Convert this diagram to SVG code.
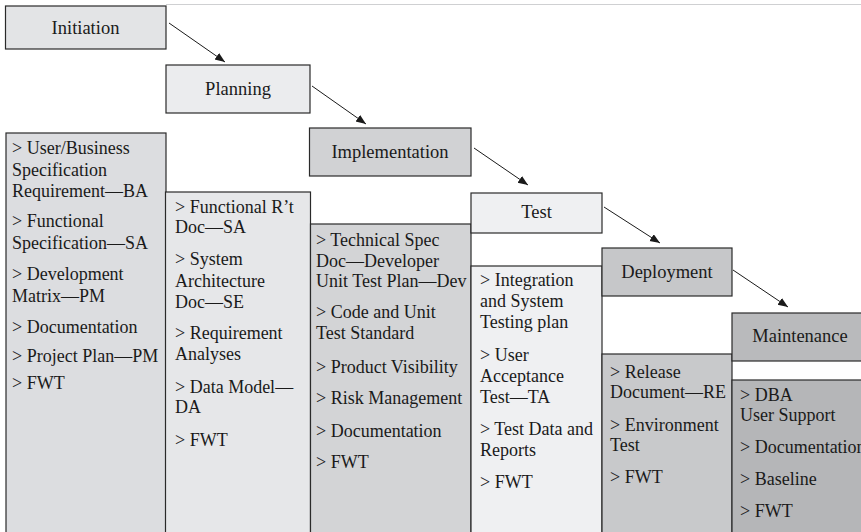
<svg xmlns="http://www.w3.org/2000/svg" width="861" height="532" viewBox="0 0 861 532">
<style>
  .box { stroke: #2a2a2a; stroke-width: 1.2; }
  .hd { font-family: 'Liberation Serif', 'Tinos', 'Times New Roman', 'DejaVu Serif', serif; font-size: 18.5px; fill: #1a1a1a; text-anchor: middle; }
  .tx { font-family: 'Liberation Serif', 'Tinos', 'Times New Roman', 'DejaVu Serif', serif; font-size: 18px; fill: #1a1a1a; }
  .conn { stroke: #1a1a1a; stroke-width: 1; fill: none; marker-end: url(#arr); }
</style>
<defs>
  <marker id="arr" markerUnits="userSpaceOnUse" markerWidth="12" markerHeight="10" refX="10" refY="4" orient="auto">
    <path d="M0,0 L10,4 L0,8 Z" fill="#1a1a1a"/>
  </marker>
</defs>
<rect x="0" y="0" width="861" height="532" fill="#ffffff"/>
<line x1="166" y1="4.5" x2="861" y2="4.5" stroke="#cfd0d2" stroke-width="1.2"/>

<g id="col1">
  <rect class="box" x="6" y="133" width="160" height="405" fill="#dcdde0"/>
  <text class="tx" font-family="Liberation Serif, serif">
    <tspan x="12" y="154">&gt; User/Business</tspan>
    <tspan x="12" y="176">Specification</tspan>
    <tspan x="12" y="197">Requirement—BA</tspan>
    <tspan x="12" y="227">&gt; Functional</tspan>
    <tspan x="12" y="249">Specification—SA</tspan>
    <tspan x="12" y="280">&gt; Development</tspan>
    <tspan x="12" y="302">Matrix—PM</tspan>
    <tspan x="12" y="333">&gt; Documentation</tspan>
    <tspan x="12" y="362">&gt; Project Plan—PM</tspan>
    <tspan x="12" y="389">&gt; FWT</tspan>
  </text>
</g>
<g id="col2">
  <rect class="box" x="165.5" y="192" width="145" height="346" fill="#e6e7e9"/>
  <text class="tx">
    <tspan x="175" y="213">&gt; Functional R’t</tspan>
    <tspan x="175" y="233">Doc—SA</tspan>
    <tspan x="175" y="265">&gt; System</tspan>
    <tspan x="175" y="287">Architecture</tspan>
    <tspan x="175" y="308">Doc—SE</tspan>
    <tspan x="175" y="339">&gt; Requirement</tspan>
    <tspan x="175" y="360">Analyses</tspan>
    <tspan x="175" y="393">&gt; Data Model—</tspan>
    <tspan x="175" y="413">DA</tspan>
    <tspan x="175" y="446">&gt; FWT</tspan>
  </text>
</g>
<g id="col3">
  <rect class="box" x="310.5" y="224" width="160.5" height="314" fill="#d3d4d6"/>
  <text class="tx">
    <tspan x="316" y="246">&gt; Technical Spec</tspan>
    <tspan x="316" y="267">Doc—Developer</tspan>
    <tspan x="316" y="287">Unit Test Plan—Dev</tspan>
    <tspan x="316" y="318">&gt; Code and Unit</tspan>
    <tspan x="316" y="339">Test Standard</tspan>
    <tspan x="316" y="373">&gt; Product Visibility</tspan>
    <tspan x="316" y="404">&gt; Risk Management</tspan>
    <tspan x="316" y="437">&gt; Documentation</tspan>
    <tspan x="316" y="468">&gt; FWT</tspan>
  </text>
</g>
<g id="col4">
  <rect class="box" x="471" y="266" width="131" height="272" fill="#eff0f2"/>
  <text class="tx">
    <tspan x="480" y="286">&gt; Integration</tspan>
    <tspan x="480" y="307">and System</tspan>
    <tspan x="480" y="328">Testing plan</tspan>
    <tspan x="480" y="361">&gt; User</tspan>
    <tspan x="480" y="382">Acceptance</tspan>
    <tspan x="480" y="403">Test—TA</tspan>
    <tspan x="480" y="435">&gt; Test Data and</tspan>
    <tspan x="480" y="456">Reports</tspan>
    <tspan x="480" y="488">&gt; FWT</tspan>
  </text>
</g>
<g id="col5">
  <rect class="box" x="602" y="354" width="130" height="184" fill="#c8c9cb"/>
  <text class="tx">
    <tspan x="610" y="378">&gt; Release</tspan>
    <tspan x="610" y="398">Document—RE</tspan>
    <tspan x="610" y="431">&gt; Environment</tspan>
    <tspan x="610" y="451">Test</tspan>
    <tspan x="610" y="483">&gt; FWT</tspan>
  </text>
</g>
<g id="col6">
  <rect class="box" x="732" y="380" width="140" height="158" fill="#b5b6b8"/>
  <text class="tx">
    <tspan x="740" y="401">&gt; DBA</tspan>
    <tspan x="740" y="421">User Support</tspan>
    <tspan x="740" y="453">&gt; Documentation</tspan>
    <tspan x="740" y="485">&gt; Baseline</tspan>
    <tspan x="740" y="517">&gt; FWT</tspan>
  </text>
</g>

<g id="initiation">
  <rect class="box" x="5.5" y="6" width="160.5" height="43" fill="#e3e4e6"/>
  <text class="hd" x="85.5" y="34">Initiation</text>
</g>
<g id="planning">
  <rect class="box" x="166" y="65" width="144" height="48" fill="#ebecee"/>
  <text class="hd" x="238" y="94.5">Planning</text>
</g>
<g id="implementation">
  <rect class="box" x="309.5" y="128" width="161.5" height="48" fill="#d1d2d4"/>
  <text class="hd" x="390" y="158">Implementation</text>
</g>
<g id="test">
  <rect class="box" x="471" y="193" width="131" height="40" fill="#eff0f2"/>
  <text class="hd" x="536.5" y="218">Test</text>
</g>
<g id="deployment">
  <rect class="box" x="602" y="248" width="130" height="48" fill="#c6c7c9"/>
  <text class="hd" x="667" y="278">Deployment</text>
</g>
<g id="maintenance">
  <rect class="box" x="732" y="313" width="140" height="48" fill="#b9babc"/>
  <text class="hd" x="800" y="342">Maintenance</text>
</g>

<g id="connectors">
  <line class="conn" x1="169" y1="23" x2="225" y2="62"/>
  <line class="conn" x1="312" y1="86" x2="366" y2="124"/>
  <line class="conn" x1="474" y1="148" x2="528" y2="185"/>
  <line class="conn" x1="604" y1="207" x2="660" y2="243"/>
  <line class="conn" x1="733" y1="270" x2="788" y2="307"/>
</g>
</svg>
